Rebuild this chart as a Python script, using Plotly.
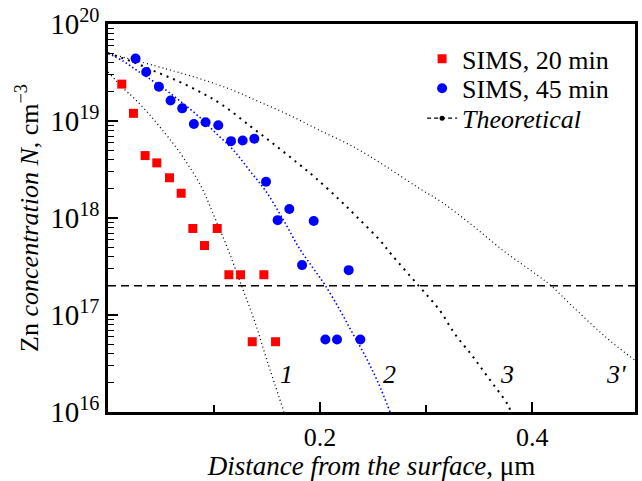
import plotly.graph_objects as go

# SIMS data, 20 min
x_20 = [0.013, 0.024, 0.035, 0.046, 0.058, 0.069, 0.080, 0.091, 0.103, 0.114, 0.125, 0.136, 0.147, 0.158]
n_20 = [2.4e19, 1.2e19, 4.4e18, 3.7e18, 2.6e18, 1.8e18, 7.8e17, 5.2e17, 7.8e17, 2.6e17, 2.6e17, 5.3e16, 2.6e17, 5.3e16]

# SIMS data, 45 min
x_45 = [0.026, 0.036, 0.048, 0.059, 0.070, 0.081, 0.092, 0.104, 0.116, 0.127, 0.138, 0.149, 0.160,
        0.171, 0.183, 0.194, 0.205, 0.216, 0.227, 0.238]
n_45 = [4.4e19, 3.2e19, 2.26e19, 1.63e19, 1.35e19, 9.3e18, 9.7e18, 9.05e18, 6.2e18, 6.3e18, 6.55e18,
        2.36e18, 9.5e17, 1.24e18, 3.27e17, 9.3e17, 5.6e16, 5.6e16, 2.9e17, 5.6e16]

# Theoretical curves
x_c1 = [0.0, 0.015, 0.025, 0.037, 0.050, 0.065, 0.087, 0.100, 0.113, 0.126, 0.138, 0.150, 0.166]
n_c1 = [3.2e19, 2.15e19, 1.7e19, 1.24e19, 8.4e18, 5.2e18, 2.2e18, 1.05e18, 4.8e17, 2.0e17, 8.8e16, 3.4e16, 1.0e16]

x_c2 = [0.0, 0.015, 0.025, 0.037, 0.055, 0.071, 0.087, 0.102, 0.118, 0.133, 0.149, 0.166, 0.180,
        0.193, 0.204, 0.218, 0.230, 0.243, 0.255, 0.266]
n_c2 = [5.0e19, 4.1e19, 3.45e19, 2.83e19, 2.07e19, 1.51e19, 1.08e19, 7.45e18, 5.04e18, 3.14e18,
        1.88e18, 9.3e17, 4.95e17, 3.09e17, 2.09e17, 1.16e17, 6.7e16, 3.7e16, 1.98e16, 1.0e16]

x_c3 = [0.0, 0.024, 0.046, 0.068, 0.090, 0.108, 0.135, 0.157, 0.179, 0.196, 0.218, 0.235, 0.257,
        0.267, 0.293, 0.313, 0.327, 0.343, 0.358, 0.377, 0.380]
n_c3 = [5.0e19, 4.04e19, 3.19e19, 2.52e19, 1.91e19, 1.46e19, 8.7e18, 5.7e18, 3.67e18, 2.58e18,
        1.55e18, 1.02e18, 5.8e17, 4.24e17, 2.0e17, 1.11e17, 6.4e16, 3.86e16, 2.31e16, 1.19e16, 1.0e16]

x_c3p = [0.0, 0.055, 0.087, 0.118, 0.143, 0.171, 0.199, 0.234, 0.262, 0.293, 0.315, 0.343, 0.374,
         0.405, 0.418, 0.437, 0.468, 0.497]
n_c3p = [5.0e19, 3.44e19, 2.72e19, 2.07e19, 1.57e19, 1.15e19, 8.07e18, 5.24e18, 3.4e18, 2.04e18,
         1.45e18, 8.5e17, 4.5e17, 2.57e17, 2.0e17, 1.26e17, 6.1e16, 3.4e16]

# Horizontal reference level
n_level = 2.0e17
x_level = [0.0, 0.497]

# Curve labels (y given as log10 N, as log-axis annotations require)
curve_labels = ["1", "2", "3", "3'"]
label_x = [0.168, 0.265, 0.376, 0.479]
label_logy = [16.39, 16.39, 16.39, 16.39]

y_tickvals = [1e16, 1e17, 1e18, 1e19, 1e20]
y_ticktext = ["10<sup>16</sup>", "10<sup>17</sup>", "10<sup>18</sup>", "10<sup>19</sup>", "10<sup>20</sup>"]
x_tickvals = [0.2, 0.4]
x_ticktext = ["0.2", "0.4"]

FONT = "Liberation Serif, Times New Roman, Times, serif"

fig = go.Figure()

fig.add_trace(go.Scatter(x=x_c1, y=n_c1, mode="lines", line=dict(color="black", width=1.3, dash="1px,3px", shape="spline"), showlegend=False))
fig.add_trace(go.Scatter(x=x_c2, y=n_c2, mode="lines", line=dict(color="#0000ff", width=1.6, dash="1.5px,2.5px", shape="spline"), showlegend=False))
fig.add_trace(go.Scatter(x=x_c3, y=n_c3, mode="lines", line=dict(color="black", width=2, dash="2px,5px", shape="spline"), showlegend=False))
fig.add_trace(go.Scatter(x=x_c3p, y=n_c3p, mode="lines", line=dict(color="black", width=1.2, dash="1px,3px", shape="spline"), showlegend=False))
fig.add_trace(go.Scatter(x=x_level, y=[n_level, n_level], mode="lines", line=dict(color="black", width=1.5, dash="8px,5px"), showlegend=False))

fig.add_trace(go.Scatter(x=x_20, y=n_20, mode="markers", name="SIMS, 20 min", legend="legend",
                         marker=dict(symbol="square", color="#ff0000", size=9)))
fig.add_trace(go.Scatter(x=x_45, y=n_45, mode="markers", name="SIMS, 45 min", legend="legend2",
                         marker=dict(symbol="circle", color="#0000ff", size=10)))
fig.add_trace(go.Scatter(x=[None], y=[None], mode="lines+markers", name="<i>Theoretical</i>", legend="legend3",
                         line=dict(color="black", width=1.3, dash="4px,3px"),
                         marker=dict(color="black", size=5)))

for t, lx, ly in zip(curve_labels, label_x, label_logy):
    fig.add_annotation(x=lx, y=ly, yref="y", xref="x", text="<i>" + t + "</i>", showarrow=False,
                       font=dict(family=FONT, size=26, color="black"))

leg_common = dict(xanchor="left", yanchor="middle", bgcolor="rgba(0,0,0,0)",
                  font=dict(family=FONT, size=26, color="black"), itemwidth=30)

fig.update_layout(
    width=642, height=481,
    margin=dict(l=108, r=4, t=21, b=69),
    paper_bgcolor="white", plot_bgcolor="white",
    font=dict(family=FONT, color="black", size=24),
    legend=dict(x=0.596, y=0.9105, **leg_common),
    legend2=dict(x=0.596, y=0.834, **leg_common),
    legend3=dict(x=0.596, y=0.757, **leg_common),
    showlegend=True,
)

fig.update_xaxes(range=[0, 0.497], showgrid=False, zeroline=False,
                 showline=True, linecolor="black", linewidth=2.5, mirror=True,
                 ticks="inside", ticklen=10, tickwidth=1.5, tickcolor="black",
                 tickvals=x_tickvals, ticktext=x_ticktext,
                 tickfont=dict(family=FONT, size=26),
                 minor=dict(ticks="inside", ticklen=7, tickwidth=1.5, tickcolor="black", dtick=0.1, tick0=0, showgrid=False),
                 title=dict(text="<i>Distance from the surface</i>, μm", font=dict(family=FONT, size=27), standoff=4))

fig.update_yaxes(type="log", range=[16, 20], showgrid=False, zeroline=False,
                 showline=True, linecolor="black", linewidth=2.5, mirror=True,
                 ticks="inside", ticklen=10, tickwidth=1.5, tickcolor="black",
                 tickvals=y_tickvals, ticktext=y_ticktext,
                 tickfont=dict(family=FONT, size=29),
                 minor=dict(ticks="inside", ticklen=6, tickwidth=1.2, tickcolor="black", dtick="D1", showgrid=False),
                 title=dict(text="Zn <i>concentration N</i>, cm<sup>−3</sup>", font=dict(family=FONT, size=26), standoff=5))

fig.write_html("out.html")
